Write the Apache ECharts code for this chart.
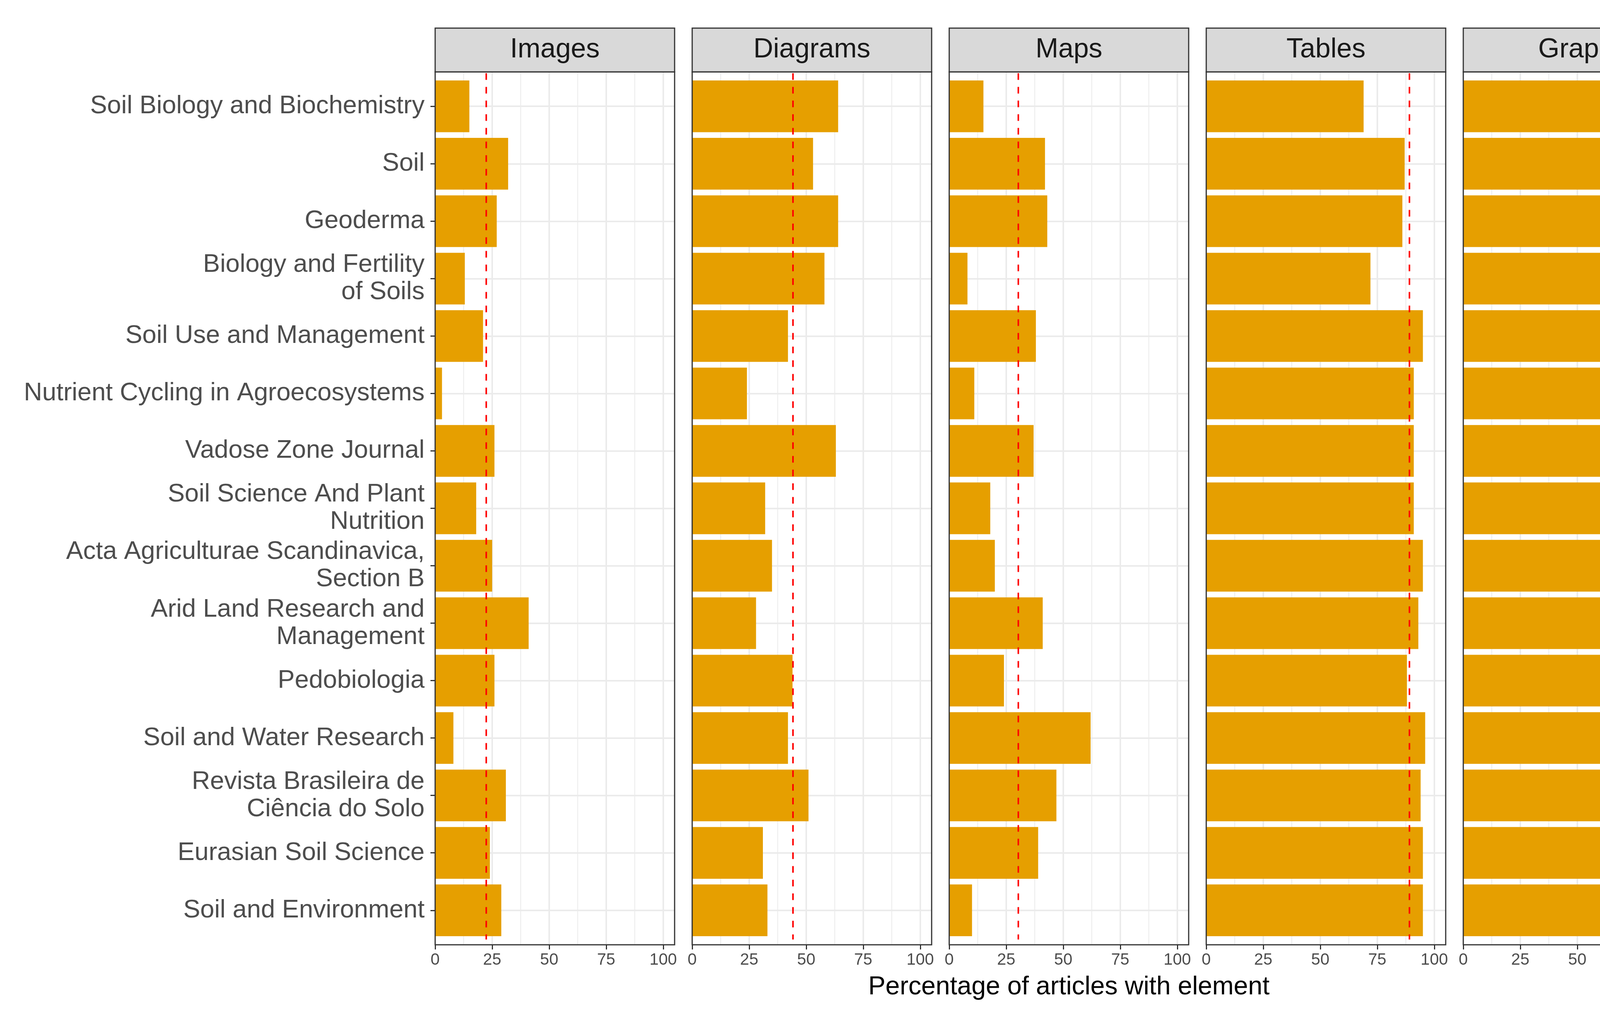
<!DOCTYPE html>
<html><head><meta charset="utf-8">
<script src="https://cdn.jsdelivr.net/npm/echarts@6/dist/echarts.min.js"></script>
<style>html,body{margin:0;padding:0;background:#fff}#c{width:4430px;height:2586px}</style>
</head><body><div id="c"></div>
<script>
// ---- data ----
const journals = [
  'Soil Biology and Biochemistry',
  'Soil',
  'Geoderma',
  'Biology and Fertility\nof Soils',
  'Soil Use and Management',
  'Nutrient Cycling in Agroecosystems',
  'Vadose Zone Journal',
  'Soil Science And Plant\nNutrition',
  'Acta Agriculturae Scandinavica,\nSection B',
  'Arid Land Research and\nManagement',
  'Pedobiologia',
  'Soil and Water Research',
  'Revista Brasileira de\nCiência do Solo',
  'Eurasian Soil Science',
  'Soil and Environment'
];
const facets = ['Images', 'Diagrams', 'Maps', 'Tables', 'Graphs'];
const imagesPct   = [15, 32, 27, 13, 21, 3, 26, 18, 25, 41, 26, 8, 31, 24, 29];
const diagramsPct = [64, 53, 64, 58, 42, 24, 63, 32, 35, 28, 44, 42, 51, 31, 33];
const mapsPct     = [15, 42, 43, 8, 38, 11, 37, 18, 20, 41, 24, 62, 47, 39, 10];
const tablesPct   = [69, 87, 86, 72, 95, 91, 91, 91, 95, 93, 88, 96, 94, 95, 95];
const graphsPct   = [97, 89, 97, 93, 97, 96, 100, 97, 90, 90, 97, 88, 94, 86, 95];
const meanPct     = [22.4, 44.2, 30.3, 89.1, 93.9];
const xTickValues = [0, 25, 50, 75, 100];
const xAxisTitle = 'Percentage of articles with element';

const facetValues = [imagesPct, diagramsPct, mapsPct, tablesPct, graphsPct];

// ---- layout ----
const FONT = '"Liberation Sans", Arial, Helvetica, sans-serif';
const L0 = 1114, STEP = 658, PW = 613, PT = 184, PH = 2235, ST = 72;
const ROW = PH / 15.2;
const XMAX = 105;
const W100 = PW * 100 / XMAX;

const grids = [], xAxes = [], yAxes = [], series = [], graphics = [];

facets.forEach((f, i) => {
  const L = L0 + i * STEP;
  const g0 = grids.length;
  grids.push({ left: L, top: PT, width: W100, height: PH });
  grids.push({ left: L, top: PT + 0.1 * ROW, width: PW, height: 15 * ROW });
  grids.push({ left: L, top: PT + 0.6 * ROW, width: PW, height: 14 * ROW });

  const xa = xAxes.length;
  const major = {
    gridIndex: g0, type: 'value', min: xTickValues[0], max: xTickValues[xTickValues.length - 1], interval: 25,
    position: 'bottom',
    axisLine: { show: false },
    axisTick: { show: true, length: 12, lineStyle: { color: '#333333', width: 3 } },
    axisLabel: { show: true, fontSize: 42, color: '#4D4D4D', margin: 18, fontFamily: FONT },
    splitLine: { show: true, lineStyle: { color: '#EBEBEB', width: 4 } }
  };
  if (i === 2) {
    major.name = xAxisTitle;
    major.nameLocation = 'middle';
    major.nameGap = 76;
    major.nameTextStyle = { fontSize: 66, color: '#000000', fontFamily: FONT, padding: [0, 0, 0, 29] };
  }
  xAxes.push(major);
  xAxes.push({
    gridIndex: g0, type: 'value', min: 0, max: 100, interval: 12.5, position: 'top',
    axisLine: { show: false }, axisTick: { show: false }, axisLabel: { show: false },
    splitLine: { show: true, lineStyle: { color: '#EBEBEB', width: 2 } }
  });
  xAxes.push({ gridIndex: g0 + 1, type: 'value', min: 0, max: XMAX, show: false });
  xAxes.push({ gridIndex: g0 + 2, type: 'value', min: 0, max: 1, show: false });

  const ya = yAxes.length;
  yAxes.push({ gridIndex: g0, type: 'value', min: 0, max: 1, show: false });
  yAxes.push({
    gridIndex: g0 + 1, type: 'category', data: journals, inverse: true,
    axisLine: { show: false },
    axisTick: { show: i === 0, alignWithLabel: true, length: 12, lineStyle: { color: '#333333', width: 3 } },
    axisLabel: { show: i === 0, interval: 0, fontSize: 65, lineHeight: 70, color: '#4D4D4D', margin: 27, fontFamily: FONT, align: 'right' },
    splitLine: { show: false }
  });
  yAxes.push({
    gridIndex: g0 + 2, type: 'value', min: 0, max: journals.length - 1, interval: 1, inverse: true,
    axisLine: { show: false }, axisTick: { show: false }, axisLabel: { show: false },
    splitLine: { show: true, lineStyle: { color: '#EBEBEB', width: 4 } }
  });

  series.push({
    type: 'bar', xAxisIndex: xa + 2, yAxisIndex: ya + 1, data: facetValues[i],
    barWidth: '90%', itemStyle: { color: '#E69F00' }, silent: true, z: 2
  });
  series.push({
    type: 'line', xAxisIndex: xa, yAxisIndex: ya,
    data: [[meanPct[i], 0.006], [meanPct[i], 1]],
    symbol: 'none', silent: true, z: 3,
    lineStyle: { color: '#FF0000', width: 4, type: [17, 18], dashOffset: 4 }
  });

  graphics.push({
    type: 'rect', silent: true, z: 100,
    shape: { x: L, y: PT, width: PW, height: PH },
    style: { fill: 'none', stroke: '#333333', lineWidth: 3 }
  });
  graphics.push({
    type: 'rect', silent: true, z: 100,
    shape: { x: L, y: ST, width: PW, height: PT - ST },
    style: { fill: '#D9D9D9', stroke: '#333333', lineWidth: 3 }
  });
  graphics.push({
    type: 'text', silent: true, z: 101,
    x: L + PW / 2, y: (ST + PT) / 2,
    style: { text: f, fill: '#1A1A1A', fontSize: 70, fontFamily: FONT, align: 'center', verticalAlign: 'middle' }
  });
});

const chart = echarts.init(document.getElementById('c'), null, { renderer: 'canvas' });
chart.setOption({
  backgroundColor: '#FFFFFF',
  animation: false,
  textStyle: { fontFamily: FONT },
  grid: grids,
  xAxis: xAxes,
  yAxis: yAxes,
  series: series,
  graphic: graphics
});
</script>
</body></html>
